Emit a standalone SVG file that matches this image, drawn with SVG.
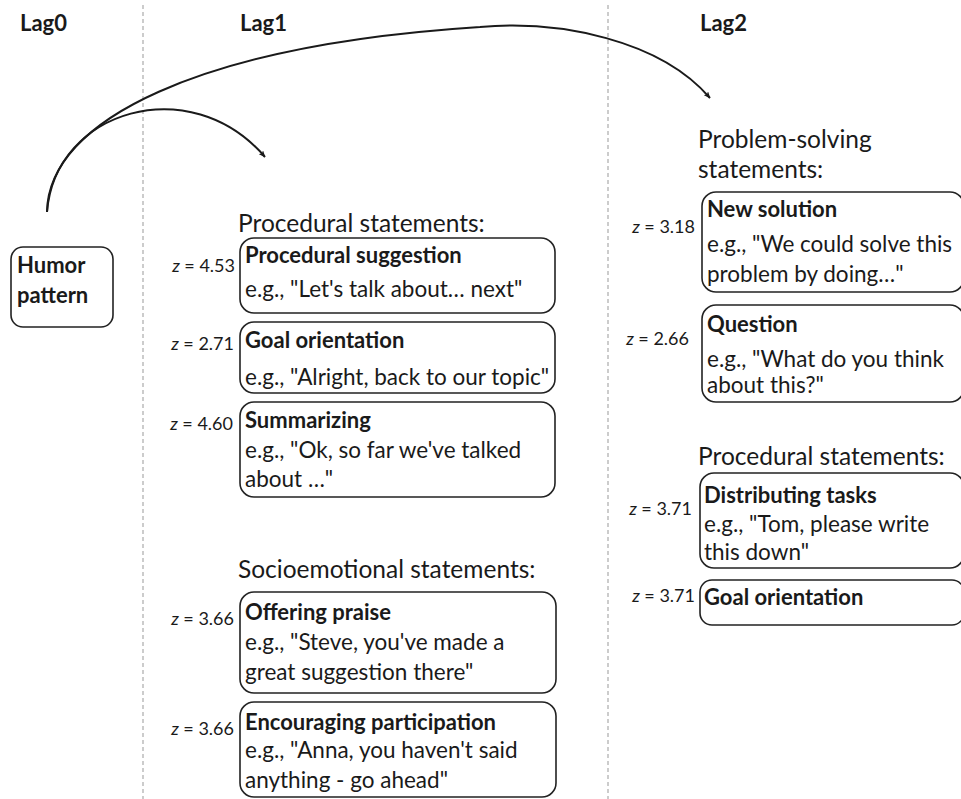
<svg xmlns="http://www.w3.org/2000/svg" width="961" height="799" viewBox="0 0 961 799">
<defs>
<style>
text{font-family:Lato,"Open Sans","Liberation Sans",sans-serif;fill:#1a1a1a}
.hd{font-size:22px;font-weight:bold}
.ttl{font-size:22px;font-weight:bold}
.bd{font-size:22.5px}
.grp{font-size:24.5px}
.z{font-size:18px;text-anchor:end}
.z tspan.i{font-style:italic}
.box{fill:#fff;stroke:#222;stroke-width:1.6}
.div{stroke:#999;stroke-width:1;stroke-dasharray:4 3}
.con{fill:none;stroke:#1a1a1a;stroke-width:2}
</style>
<marker id="ah" viewBox="0 0 12 10" refX="11" refY="5" markerWidth="7" markerHeight="6" orient="auto" markerUnits="userSpaceOnUse">
<path d="M0,0 L12,5 L0,10 L3,5 z" fill="#1a1a1a"/>
</marker>
</defs>
<rect width="961" height="799" fill="#fff"/>
<line class="div" x1="143" y1="5" x2="143" y2="799"/>
<line class="div" x1="608" y1="5" x2="608" y2="799"/>
<text class="hd" x="20" y="31">Lag0</text>
<text class="hd" x="240" y="31">Lag1</text>
<text class="hd" x="700" y="31">Lag2</text>

<g id="connectors">
<path class="con" d="M47,212 C55,110 190,70 265,157" marker-end="url(#ah)"/>
<path class="con" d="M47,212 C48,120 200,45 480,27 C560,20 660,40 710,98" marker-end="url(#ah)"/>
</g>

<g id="humor">
<rect class="box" x="11" y="247" width="102" height="80" rx="12"/>
<text class="ttl" x="17" y="273">Humor</text>
<text class="ttl" x="17" y="303">pattern</text>
</g>

<text class="grp" x="238" y="232">Procedural statements:</text>
<g id="proc-suggestion">
<rect class="box" x="240" y="238" width="315" height="75" rx="14"/>
<text class="z" x="235" y="272"><tspan class="i">z</tspan> = 4.53</text>
<text class="ttl" x="245" y="263">Procedural suggestion</text>
<text class="bd" x="245" y="297">e.g., "Let's talk about… next"</text>
</g>
<g id="goal-orientation-1">
<rect class="box" x="240" y="322" width="315" height="71" rx="14"/>
<text class="z" x="234" y="350"><tspan class="i">z</tspan> = 2.71</text>
<text class="ttl" x="245" y="348">Goal orientation</text>
<text class="bd" x="245" y="385">e.g., "Alright, back to our topic"</text>
</g>
<g id="summarizing">
<rect class="box" x="240" y="402" width="315" height="95" rx="14"/>
<text class="z" x="233" y="430"><tspan class="i">z</tspan> = 4.60</text>
<text class="ttl" x="245" y="428">Summarizing</text>
<text class="bd" x="245" y="458">e.g., "Ok, so far we've talked</text>
<text class="bd" x="245" y="487">about …"</text>
</g>

<text class="grp" x="238" y="578">Socioemotional statements:</text>
<g id="offering-praise">
<rect class="box" x="240" y="592" width="316" height="101" rx="14"/>
<text class="z" x="234" y="625"><tspan class="i">z</tspan> = 3.66</text>
<text class="ttl" x="245" y="620">Offering praise</text>
<text class="bd" x="245" y="650">e.g., "Steve, you've made a</text>
<text class="bd" x="245" y="680">great suggestion there"</text>
</g>
<g id="encouraging">
<rect class="box" x="240" y="702" width="316" height="95" rx="14"/>
<text class="z" x="234" y="735"><tspan class="i">z</tspan> = 3.66</text>
<text class="ttl" x="245" y="730">Encouraging participation</text>
<text class="bd" x="245" y="758">e.g., "Anna, you haven't said</text>
<text class="bd" x="245" y="788">anything - go ahead"</text>
</g>

<text class="grp" x="698" y="148">Problem-solving</text>
<text class="grp" x="698" y="178">statements:</text>
<g id="new-solution">
<rect class="box" x="702" y="192" width="262" height="100" rx="14"/>
<text class="z" x="695" y="233"><tspan class="i">z</tspan> = 3.18</text>
<text class="ttl" x="707" y="217">New solution</text>
<text class="bd" x="707" y="252">e.g., "We could solve this</text>
<text class="bd" x="707" y="282">problem by doing…"</text>
</g>
<g id="question">
<rect class="box" x="702" y="305" width="262" height="97" rx="14"/>
<text class="z" x="689" y="345"><tspan class="i">z</tspan> = 2.66</text>
<text class="ttl" x="707" y="332">Question</text>
<text class="bd" x="707" y="367">e.g., "What do you think</text>
<text class="bd" x="707" y="393">about this?"</text>
</g>

<text class="grp" x="698" y="465">Procedural statements:</text>
<g id="distributing">
<rect class="box" x="700" y="473" width="264" height="95" rx="14"/>
<text class="z" x="692" y="515"><tspan class="i">z</tspan> = 3.71</text>
<text class="ttl" x="704" y="503">Distributing tasks</text>
<text class="bd" x="704" y="532">e.g., "Tom, please write</text>
<text class="bd" x="704" y="560">this down"</text>
</g>
<g id="goal-orientation-2">
<rect class="box" x="700" y="580" width="264" height="45" rx="12"/>
<text class="z" x="695" y="602"><tspan class="i">z</tspan> = 3.71</text>
<text class="ttl" x="704" y="605">Goal orientation</text>
</g>
</svg>
